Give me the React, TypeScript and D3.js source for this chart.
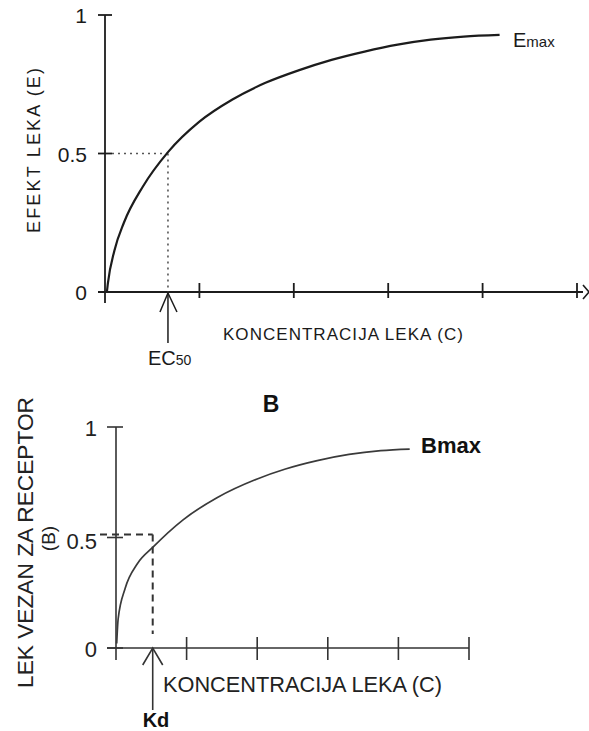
import React from "react";
import * as d3 from "d3";

// ---- Top chart (A): drug effect vs concentration ----
const topConc = [0.02, 0.03, 0.1, 0.2, 0.4, 0.667, 1.0, 1.35, 1.7, 2.05, 2.4, 2.75, 3.1, 3.45, 3.8, 4.18];
const topEffect = [0, 0.03, 0.15, 0.25, 0.38, 0.505, 0.615, 0.695, 0.755, 0.8, 0.838, 0.868, 0.893, 0.911, 0.922, 0.928];
const topXTicks = [1, 2, 3, 4, 5];
const topYTicks = [0, 0.5, 1];
const topYTickLabels = ["0", "0.5", "1"];
const ec50 = 0.667;

// ---- Bottom chart (B): drug bound to receptor ----
const botConc = [0.01, 0.03, 0.13, 0.3, 0.52, 0.95, 1.43, 2.0, 2.4, 2.85, 3.3, 3.75, 4.16];
const botBound = [0.02, 0.13, 0.27, 0.38, 0.455, 0.58, 0.68, 0.765, 0.81, 0.848, 0.876, 0.893, 0.9];
const botXTicks = [1, 2, 3, 4, 5];
const botYTicks = [0, 0.5, 1];
const botYTickLabels = ["0", "0.5", "1"];
const kd = 0.52;

const FONT = "'Liberation Sans', Arial, Helvetica, sans-serif";

export default function App() {
  const xT = d3.scaleLinear().domain([0, 5]).range([105, 577]);
  const yT = d3.scaleLinear().domain([0, 1]).range([292, 15]);
  const xB = d3.scaleLinear().domain([0, 5]).range([116, 469]);
  const yB = d3.scaleLinear().domain([0, 1]).range([648, 427]);

  const topData = topConc.map((c, i) => [c, topEffect[i]] as [number, number]);
  const botData = botConc.map((c, i) => [c, botBound[i]] as [number, number]);

  const lineT = d3
    .line<[number, number]>()
    .x((d) => xT(d[0]))
    .y((d) => yT(d[1]))
    .curve(d3.curveMonotoneX);
  const lineB = d3
    .line<[number, number]>()
    .x((d) => xB(d[0]))
    .y((d) => yB(d[1]))
    .curve(d3.curveMonotoneX);

  const topStroke = "#1c1c1c";
  const botStroke = "#333";
  const ecX = xT(ec50);
  const kdX = xB(kd);

  return (
    <svg
      width={589}
      height={731}
      style={{ position: "absolute", left: 0, top: 0, background: "#fff" }}
      fontFamily={FONT}
    >
      <rect x={0} y={0} width={589} height={731} fill="#fff" />

      {/* ===== TOP CHART ===== */}
      <g>
        <line x1={xT(0)} x2={xT(0)} y1={yT(1)} y2={303} stroke={topStroke} strokeWidth={1.8} />
        {topYTicks.map((t) => (
          <line key={"tyt" + t} x1={98} x2={112} y1={yT(t)} y2={yT(t)} stroke={topStroke} strokeWidth={1.8} />
        ))}
        {topYTicks.map((t, i) => (
          <text key={"tyl" + t} x={87} y={yT(t) + 8} fontSize={21} textAnchor="end" fill="#1a1a1a">
            {topYTickLabels[i]}
          </text>
        ))}
        <line x1={98} x2={583} y1={yT(0)} y2={yT(0)} stroke={topStroke} strokeWidth={1.8} />
        {topXTicks.map((t) => (
          <line key={"txt" + t} x1={xT(t)} x2={xT(t)} y1={283} y2={298} stroke={topStroke} strokeWidth={1.8} />
        ))}
        {/* cut-off mark at the axis end */}
        <path d="M583,285 L589,292 M583,299 L589,292" fill="none" stroke={topStroke} strokeWidth={1.6} />

        {/* dotted guides */}
        <line x1={112} x2={ecX} y1={yT(0.5)} y2={yT(0.5)} stroke="#555" strokeWidth={1.6} strokeDasharray="2 4" />
        <line x1={ecX} x2={ecX} y1={yT(0.5)} y2={yT(0)} stroke="#555" strokeWidth={1.6} strokeDasharray="2 4" />

        <path d={lineT(topData) || ""} fill="none" stroke={topStroke} strokeWidth={2.2} />

        {/* EC50 arrow */}
        <line x1={ecX} x2={ecX} y1={yT(0) + 1} y2={343} stroke={topStroke} strokeWidth={1.5} />
        <polyline
          points={`${ecX - 8},${312} ${ecX},${yT(0) + 1} ${ecX + 9},${312}`}
          fill="none"
          stroke={topStroke}
          strokeWidth={1.5}
        />
        <text x={148} y={365} fontSize={20} fill="#1a1a1a">
          EC<tspan fontSize={14}>50</tspan>
        </text>

        <text x={513} y={47} fontSize={20} fill="#1a1a1a">
          E<tspan fontSize={15}>max</tspan>
        </text>

        <text
          transform={`translate(40,150.5) rotate(-90)`}
          fontSize={18}
          textAnchor="middle"
          textLength={165}
          lengthAdjust="spacing"
          fill="#1a1a1a"
        >
          EFEKT  LEKA (E)
        </text>
        <text x={223} y={340} fontSize={17} textLength={240} lengthAdjust="spacing" fill="#1a1a1a">
          KONCENTRACIJA LEKA (C)
        </text>
      </g>

      {/* ===== BOTTOM CHART ===== */}
      <g>
        <text x={271} y={412} fontSize={23} fontWeight="bold" textAnchor="middle" fill="#111">
          B
        </text>
        <line x1={xB(0)} x2={xB(0)} y1={yB(1)} y2={660} stroke={botStroke} strokeWidth={1.6} />
        {botYTicks.map((t) => (
          <line key={"byt" + t} x1={107} x2={123} y1={yB(t)} y2={yB(t)} stroke={botStroke} strokeWidth={1.6} />
        ))}
        {botYTicks.map((t, i) => (
          <text key={"byl" + t} x={97} y={yB(t) + (t === 0.5 ? 11 : 9)} fontSize={22} textAnchor="end" fill="#222">
            {botYTickLabels[i]}
          </text>
        ))}
        <line x1={107} x2={xB(5)} y1={yB(0)} y2={yB(0)} stroke={botStroke} strokeWidth={1.6} />
        {botXTicks.map((t) => (
          <line key={"bxt" + t} x1={xB(t)} x2={xB(t)} y1={637} y2={660} stroke={botStroke} strokeWidth={1.6} />
        ))}

        <line x1={100} x2={kdX} y1={yB(0.5) - 3} y2={yB(0.5) - 3} stroke="#333" strokeWidth={2} strokeDasharray="7 5" />
        <line x1={kdX} x2={kdX} y1={yB(0.5) - 3} y2={yB(0) - 14} stroke="#333" strokeWidth={2} strokeDasharray="7 5" />

        <path d={lineB(botData) || ""} fill="none" stroke="#3a3a3a" strokeWidth={1.7} />

        <line x1={kdX} x2={kdX} y1={yB(0)} y2={710} stroke={botStroke} strokeWidth={1.6} />
        <polyline
          points={`${kdX - 10},${665} ${kdX},${yB(0)} ${kdX + 10},${665}`}
          fill="none"
          stroke={botStroke}
          strokeWidth={1.6}
        />
        <text x={156} y={727} fontSize={20} fontWeight="bold" textAnchor="middle" fill="#111">
          Kd
        </text>

        <text x={421} y={453} fontSize={22} fontWeight="bold" fill="#111">
          Bmax
        </text>

        <text
          transform={`translate(33,542.5) rotate(-90)`}
          fontSize={22}
          textAnchor="middle"
          textLength={291}
          lengthAdjust="spacingAndGlyphs"
          fill="#222"
        >
          LEK VEZAN ZA RECEPTOR
        </text>
        <text transform={`translate(55,538.5) rotate(-90)`} fontSize={19} textAnchor="middle" fill="#222">
          (B)
        </text>
        <text x={163} y={692} fontSize={22} textLength={279} lengthAdjust="spacingAndGlyphs" fill="#222">
          KONCENTRACIJA LEKA (C)
        </text>
      </g>
    </svg>
  );
}
